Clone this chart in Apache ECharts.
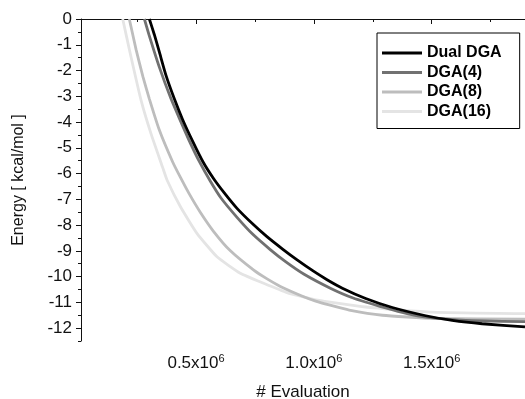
<!DOCTYPE html>
<html>
<head>
<meta charset="utf-8">
<script src="https://cdn.jsdelivr.net/npm/echarts@6/dist/echarts.min.js"></script>
<style>
html,body{margin:0;padding:0;background:#fff;}
#chart{width:525px;height:399px;}
</style>
</head>
<body>
<div id="chart"></div>
<script>
// Evaluations in units of 10^6, energy in kcal/mol
const seriesNames = ['Dual DGA', 'DGA(4)', 'DGA(8)', 'DGA(16)'];

const dualX = [0.302, 0.323, 0.345, 0.373, 0.408, 0.443, 0.486, 0.530, 0.575, 0.620, 0.674, 0.740, 0.801, 0.870, 0.929, 1.000, 1.056, 1.121, 1.220, 1.333, 1.475, 1.587, 1.714, 1.896];
const dualY = [0, -0.60, -1.30, -2.20, -3.10, -3.90, -4.75, -5.55, -6.20, -6.75, -7.35, -7.95, -8.45, -8.95, -9.35, -9.80, -10.12, -10.45, -10.85, -11.20, -11.52, -11.70, -11.83, -11.95];

const dga4X = [0.281, 0.300, 0.344, 0.394, 0.429, 0.470, 0.515, 0.561, 0.606, 0.674, 0.740, 0.815, 0.880, 0.957, 1.070, 1.164, 1.305, 1.400, 1.475, 1.644, 1.896];
const dga4Y = [0, -0.60, -1.86, -3.10, -3.85, -4.70, -5.55, -6.30, -6.95, -7.70, -8.35, -8.95, -9.42, -9.90, -10.45, -10.82, -11.22, -11.45, -11.57, -11.70, -11.75];

const dga8X = [0.217, 0.246, 0.275, 0.302, 0.344, 0.401, 0.434, 0.472, 0.518, 0.575, 0.646, 0.745, 0.800, 0.858, 0.957, 1.008, 1.065, 1.150, 1.291, 1.503, 1.896];
const dga8Y = [0, -1.20, -2.25, -3.10, -4.30, -5.55, -6.15, -6.80, -7.50, -8.25, -9.00, -9.75, -10.08, -10.38, -10.78, -10.95, -11.10, -11.30, -11.50, -11.62, -11.65];

const dga16X = [0.189, 0.220, 0.267, 0.309, 0.358, 0.377, 0.434, 0.504, 0.589, 0.688, 0.787, 0.886, 1.008, 1.220, 1.503, 1.896];
const dga16Y = [0, -1.30, -3.16, -4.45, -5.75, -6.25, -7.29, -8.32, -9.23, -9.87, -10.26, -10.62, -10.90, -11.18, -11.38, -11.44];

const xMajorTicks = [0.5, 1.0, 1.5];
const xMinorTicks = [0.25, 0.75, 1.25, 1.75];
const yMajorTicks = [0, -1, -2, -3, -4, -5, -6, -7, -8, -9, -10, -11, -12];
const yMinorTicks = [-0.5, -1.5, -2.5, -3.5, -4.5, -5.5, -6.5, -7.5, -8.5, -9.5, -10.5, -11.5, -12.5];

const xs = [dualX, dga4X, dga8X, dga16X];
const ys = [dualY, dga4Y, dga8Y, dga16Y];
const colors = ['#000000', '#717171', '#bdbdbd', '#e4e4e4'];

const FONT = '"Liberation Sans", Arial, sans-serif';
const X_MIN = 0.012, X_MAX = 1.896, Y_MIN = -12.5, Y_MAX = 0;
const axisLineStyle = { color: '#111', width: 1 };

const chart = echarts.init(document.getElementById('chart'), null, { renderer: 'canvas' });

const series = seriesNames.map((name, i) => ({
  name: name,
  type: 'line',
  xAxisIndex: 0,
  yAxisIndex: 0,
  showSymbol: false,
  symbol: 'none',
  smooth: 0.15,
  z: 10 - i,
  lineStyle: { color: colors[i], width: 2.8 },
  itemStyle: { color: colors[i] },
  data: xs[i].map((x, k) => [x, ys[i][k]])
}));

chart.setOption({
  animation: false,
  backgroundColor: '#fff',
  textStyle: { fontFamily: FONT },
  grid: { left: 81, right: 0, top: 19, bottom: 58, containLabel: false, outerBoundsMode: 'none' },
  legend: {
    data: seriesNames,
    orient: 'vertical',
    left: 377,
    top: 33,
    icon: 'rect',
    itemWidth: 40,
    itemHeight: 3,
    itemGap: 3.5,
    padding: [12, 18, 9, 5],
    borderColor: '#000',
    borderWidth: 1,
    backgroundColor: '#fff',
    textStyle: { fontFamily: FONT, fontSize: 16, fontWeight: 'bold', color: '#000', lineHeight: 16 }
  },
  xAxis: [
    {
      type: 'value', position: 'bottom', min: X_MIN, max: X_MAX,
      axisLine: { show: true, lineStyle: axisLineStyle },
      axisTick: { show: true, customValues: xMajorTicks, length: 5, lineStyle: axisLineStyle },
      axisLabel: {
        show: true, customValues: xMajorTicks, margin: 12, color: '#111',
        formatter: v => '{a|' + v.toFixed(1) + 'x10}{s|6}',
        rich: {
          a: { fontSize: 17, fontFamily: FONT, color: '#111' },
          s: { fontSize: 11, fontFamily: FONT, color: '#111', padding: [0, 0, 10, 0] }
        }
      },
      splitLine: { show: false },
      name: '# Evaluation', nameLocation: 'middle', nameGap: 43,
      nameTextStyle: { fontSize: 17, fontFamily: FONT, color: '#111' }
    },
    {
      type: 'value', position: 'bottom', min: X_MIN, max: X_MAX,
      axisLine: { show: false },
      axisTick: { show: true, customValues: xMinorTicks, length: 3, lineStyle: axisLineStyle },
      axisLabel: { show: false },
      splitLine: { show: false }
    },
    {
      type: 'value', position: 'top', min: X_MIN, max: X_MAX,
      axisLine: { show: true, lineStyle: axisLineStyle },
      axisTick: { show: true, inside: true, customValues: xMajorTicks.concat(xMinorTicks), length: 3, lineStyle: axisLineStyle },
      axisLabel: { show: false },
      splitLine: { show: false }
    }
  ],
  yAxis: [
    {
      type: 'value', position: 'left', min: Y_MIN, max: Y_MAX,
      axisLine: { show: true, lineStyle: axisLineStyle },
      axisTick: { show: true, customValues: yMajorTicks, length: 5, lineStyle: axisLineStyle },
      axisLabel: { show: true, customValues: yMajorTicks, margin: 9, fontSize: 17, color: '#111', fontFamily: FONT },
      splitLine: { show: false },
      name: 'Energy [ kcal/mol ]', nameLocation: 'middle', nameGap: 54, nameRotate: 90,
      nameTextStyle: { fontSize: 16, fontFamily: FONT, color: '#111' }
    },
    {
      type: 'value', position: 'left', min: Y_MIN, max: Y_MAX,
      axisLine: { show: false },
      axisTick: { show: true, customValues: yMinorTicks, length: 3, lineStyle: axisLineStyle },
      axisLabel: { show: false },
      splitLine: { show: false }
    }
  ],
  series: series
});
</script>
</body>
</html>
